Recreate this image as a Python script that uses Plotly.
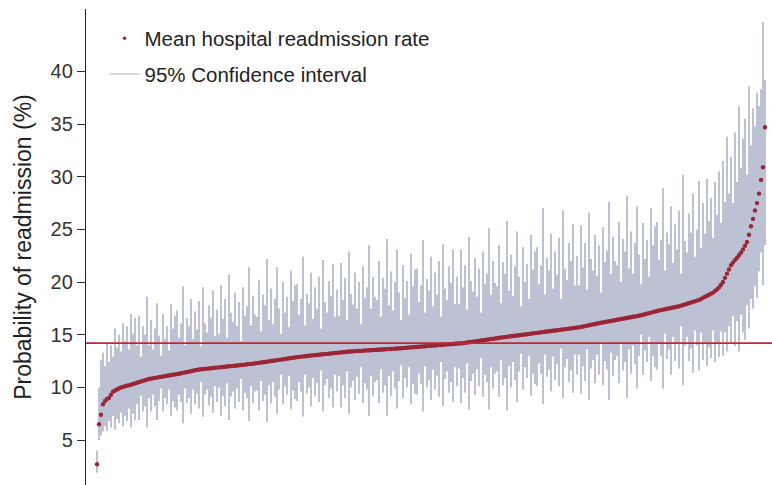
import plotly.graph_objects as go

# Hospitals ranked by mean readmission rate (%)
mean_rate = [
    2.7, 6.5, 7.4, 8.4, 8.7, 8.9, 9.0, 9.3, 9.6, 9.7, 9.8, 9.9, 10.0, 10.05, 10.1, 10.15, 10.2, 10.26, 10.32, 10.38,
    10.44, 10.5, 10.56, 10.62, 10.68, 10.74, 10.8, 10.83, 10.87, 10.9, 10.93, 10.97, 11.0, 11.03, 11.07, 11.1, 11.13, 11.17, 11.2, 11.23,
    11.27, 11.3, 11.34, 11.38, 11.42, 11.46, 11.5, 11.54, 11.58, 11.62, 11.66, 11.7, 11.72, 11.74, 11.76, 11.78, 11.8, 11.82, 11.84, 11.86,
    11.88, 11.9, 11.92, 11.94, 11.96, 11.98, 12.0, 12.02, 12.04, 12.06, 12.08, 12.1, 12.12, 12.14, 12.16, 12.19, 12.21, 12.23, 12.25, 12.28,
    12.3, 12.33, 12.36, 12.39, 12.41, 12.44, 12.47, 12.5, 12.53, 12.56, 12.59, 12.61, 12.64, 12.67, 12.7, 12.73, 12.76, 12.79, 12.81, 12.84,
    12.87, 12.9, 12.92, 12.94, 12.96, 12.98, 13.0, 13.02, 13.04, 13.06, 13.08, 13.1, 13.12, 13.14, 13.16, 13.18, 13.2, 13.22, 13.24, 13.26,
    13.28, 13.3, 13.32, 13.34, 13.36, 13.38, 13.4, 13.41, 13.42, 13.44, 13.45, 13.46, 13.47, 13.48, 13.5, 13.51, 13.52, 13.53, 13.54, 13.56,
    13.57, 13.58, 13.59, 13.6, 13.62, 13.63, 13.64, 13.65, 13.66, 13.68, 13.69, 13.7, 13.72, 13.73, 13.75, 13.76, 13.78, 13.8, 13.81, 13.83,
    13.84, 13.86, 13.87, 13.89, 13.91, 13.92, 13.94, 13.95, 13.97, 13.98, 14.0, 14.02, 14.03, 14.05, 14.06, 14.08, 14.09, 14.11, 14.12, 14.14,
    14.16, 14.17, 14.19, 14.2, 14.23, 14.26, 14.28, 14.31, 14.34, 14.37, 14.39, 14.42, 14.45, 14.48, 14.5, 14.53, 14.56, 14.59, 14.61, 14.64,
    14.67, 14.7, 14.73, 14.75, 14.78, 14.8, 14.83, 14.85, 14.88, 14.9, 14.93, 14.95, 14.98, 15.0, 15.03, 15.05, 15.08, 15.1, 15.13, 15.15,
    15.18, 15.2, 15.23, 15.25, 15.28, 15.3, 15.33, 15.35, 15.38, 15.4, 15.43, 15.45, 15.48, 15.5, 15.53, 15.55, 15.58, 15.6, 15.63, 15.65,
    15.68, 15.7, 15.74, 15.78, 15.82, 15.86, 15.9, 15.94, 15.98, 16.02, 16.06, 16.1, 16.14, 16.17, 16.21, 16.24, 16.28, 16.31, 16.35, 16.38,
    16.42, 16.45, 16.49, 16.52, 16.56, 16.59, 16.63, 16.66, 16.7, 16.73, 16.77, 16.8, 16.85, 16.9, 16.95, 17.0, 17.05, 17.1, 17.15, 17.2,
    17.25, 17.3, 17.34, 17.38, 17.42, 17.46, 17.5, 17.54, 17.58, 17.62, 17.66, 17.7, 17.76, 17.82, 17.88, 17.94, 18.0, 18.06, 18.12, 18.18,
    18.24, 18.3, 18.4, 18.5, 18.6, 18.7, 18.8, 18.9, 19.0, 19.15, 19.3, 19.5, 19.75, 20.0, 20.4, 20.8, 21.2, 21.6, 21.85, 22.1,
    22.3, 22.55, 22.8, 23.1, 23.45, 23.8, 24.5, 25.3, 26.0, 26.8, 27.5, 28.4, 29.7, 30.9, 34.7,
]

ci_lower = [
    1.9, 5.0, 5.4, 5.8, 6.3, 5.9, 6.8, 6.2, 7.3, 6.0, 7.0, 6.6, 7.6, 6.3, 7.3, 6.8, 8.0, 6.2, 7.5, 6.9,
    8.4, 6.9, 9.2, 7.7, 8.2, 6.2, 9.0, 7.7, 9.3, 8.2, 6.9, 8.7, 9.9, 7.7, 9.0, 8.4, 9.8, 7.3, 8.7, 8.1,
    7.8, 9.3, 8.6, 6.6, 9.9, 8.5, 9.0, 7.5, 9.8, 8.4, 9.4, 8.0, 10.5, 7.2, 9.3, 9.8, 8.3, 9.1, 7.6, 10.1,
    8.6, 10.0, 7.3, 9.2, 8.2, 10.4, 6.9, 9.1, 9.6, 8.0, 9.9, 8.6, 10.8, 7.8, 9.5, 9.0, 6.8, 10.1, 8.5, 9.6,
    9.7, 7.8, 10.6, 8.7, 9.3, 6.7, 10.2, 8.5, 10.5, 9.1, 7.5, 9.8, 11.2, 8.4, 10.1, 9.3, 11.1, 7.9, 9.7, 8.9,
    8.7, 10.5, 9.6, 7.2, 11.2, 9.4, 10.0, 8.2, 10.9, 9.2, 10.4, 8.6, 11.6, 7.7, 10.2, 10.8, 9.0, 9.9, 8.1, 11.2,
    9.6, 11.1, 8.1, 10.2, 9.0, 11.5, 7.5, 10.0, 10.6, 8.8, 11.0, 9.4, 11.9, 8.5, 10.4, 9.8, 7.3, 11.1, 9.2, 10.5,
    10.7, 8.5, 11.7, 9.5, 10.2, 7.3, 11.1, 9.2, 11.5, 9.9, 8.0, 10.6, 12.1, 9.0, 10.9, 10.0, 11.9, 8.4, 10.3, 9.4,
    9.3, 11.3, 10.3, 7.7, 12.0, 10.0, 10.7, 8.8, 11.7, 9.8, 11.1, 9.1, 12.4, 8.2, 10.8, 11.5, 9.5, 10.5, 8.6, 11.9,
    10.1, 11.8, 8.5, 10.9, 9.5, 12.3, 7.9, 10.6, 11.3, 9.3, 11.7, 10.1, 12.8, 9.1, 11.2, 10.5, 7.9, 11.9, 9.9, 11.3,
    11.5, 9.1, 12.6, 10.2, 10.9, 7.8, 12.0, 10.0, 12.4, 10.7, 8.6, 11.5, 13.2, 9.8, 11.9, 10.9, 13.0, 9.2, 11.3, 10.3,
    10.1, 12.3, 11.3, 8.4, 13.1, 11.0, 11.7, 9.6, 12.9, 10.7, 12.2, 10.1, 13.7, 9.0, 11.9, 12.7, 10.5, 11.6, 9.5, 13.1,
    11.2, 13.1, 9.4, 12.0, 10.6, 13.6, 8.8, 11.8, 12.6, 10.4, 13.1, 11.2, 14.3, 10.2, 12.5, 11.7, 8.8, 13.3, 11.1, 12.6,
    13.0, 10.4, 14.2, 11.6, 12.4, 9.0, 13.6, 11.3, 14.0, 12.2, 9.9, 13.0, 15.0, 11.2, 13.5, 12.4, 14.8, 10.6, 13.0, 11.9,
    11.7, 14.1, 13.0, 9.9, 15.1, 12.7, 13.6, 11.2, 14.8, 12.5, 14.1, 11.8, 15.8, 10.2, 13.9, 14.8, 12.5, 13.7, 11.4, 15.4,
    14.0, 11.6, 15.2, 12.6, 14.3, 12.0, 13.8, 12.8, 15.4, 12.4, 14.2, 12.9, 15.3, 13.0, 15.2, 13.4, 15.8, 14.2, 16.8, 13.9,
    16.3, 13.4, 16.9, 15.2, 14.5, 17.8, 15.6, 18.4, 17.5, 19.6, 18.5, 21.0, 22.8, 19.7, 23.5,
]

ci_upper = [
    4.0, 10.0, 12.6, 13.3, 12.0, 14.2, 12.4, 14.0, 12.9, 15.6, 13.8, 15.0, 13.4, 16.1, 14.4, 15.8, 13.6, 17.0, 15.1, 16.6,
    14.0, 16.8, 12.9, 15.8, 15.0, 18.6, 14.0, 16.4, 13.6, 15.6, 18.0, 14.9, 13.0, 17.0, 14.6, 15.8, 13.5, 17.9, 15.6, 16.8,
    17.3, 14.7, 16.1, 19.6, 14.0, 16.6, 15.8, 18.4, 14.6, 17.2, 15.5, 18.2, 13.9, 19.5, 16.1, 15.2, 17.8, 16.6, 19.2, 14.9,
    17.4, 15.1, 19.7, 16.5, 18.4, 14.7, 20.7, 17.1, 16.2, 19.0, 15.8, 18.1, 14.4, 19.5, 16.8, 17.7, 21.4, 15.9, 18.7, 16.9,
    16.7, 20.2, 15.3, 18.8, 17.8, 22.2, 16.4, 19.4, 16.0, 18.4, 21.4, 17.5, 15.1, 20.0, 17.1, 18.6, 15.7, 21.1, 18.2, 19.7,
    19.8, 16.9, 18.4, 22.4, 15.9, 18.9, 18.0, 20.9, 16.5, 19.5, 17.5, 20.5, 15.6, 22.1, 18.1, 17.1, 20.1, 18.7, 21.7, 16.7,
    19.3, 16.8, 21.8, 18.3, 20.4, 16.4, 22.9, 18.9, 17.9, 20.9, 17.5, 20.0, 16.0, 21.5, 18.5, 19.5, 23.5, 17.5, 20.5, 18.6,
    18.3, 22.0, 16.7, 20.4, 19.4, 24.1, 17.8, 21.0, 17.3, 20.0, 23.1, 19.0, 16.4, 21.6, 18.5, 20.1, 16.9, 22.7, 19.6, 21.2,
    21.3, 18.1, 19.7, 24.0, 17.1, 20.3, 19.2, 22.4, 17.7, 20.9, 18.8, 22.0, 16.7, 23.6, 19.4, 18.3, 21.5, 19.9, 23.1, 17.9,
    20.5, 17.9, 23.1, 19.5, 21.6, 17.4, 24.3, 20.1, 19.1, 22.3, 18.6, 21.3, 17.1, 22.9, 19.8, 20.8, 25.1, 18.8, 22.0, 19.9,
    19.6, 23.5, 18.0, 21.9, 20.8, 25.8, 19.2, 22.6, 18.7, 21.5, 24.8, 20.5, 17.7, 23.3, 20.0, 21.7, 18.4, 24.5, 21.2, 22.9,
    23.3, 19.8, 21.6, 27.0, 18.8, 22.3, 21.1, 24.6, 19.4, 22.9, 20.7, 24.2, 18.4, 26.8, 21.3, 20.2, 23.7, 22.0, 25.5, 19.7,
    22.5, 19.7, 25.4, 21.4, 23.7, 19.3, 26.6, 22.2, 21.1, 24.5, 20.6, 23.5, 19.0, 25.2, 21.9, 23.0, 27.6, 20.8, 24.3, 22.0,
    21.6, 25.7, 20.0, 24.1, 22.9, 28.2, 21.3, 24.8, 20.8, 23.7, 27.2, 22.6, 19.8, 25.6, 22.2, 24.0, 20.5, 27.0, 23.5, 25.3,
    25.7, 22.1, 24.0, 28.9, 21.1, 24.7, 23.6, 27.2, 21.8, 25.5, 23.1, 26.8, 20.8, 30.2, 23.9, 22.8, 26.5, 24.7, 28.4, 22.4,
    25.0, 29.6, 23.2, 27.5, 24.6, 29.8, 25.8, 28.0, 24.2, 29.5, 26.4, 30.5, 25.6, 31.5, 27.6, 33.8, 28.4, 31.9, 27.5, 34.2,
    29.5, 36.7, 30.8, 33.6, 35.5, 30.2, 38.6, 33.0, 36.5, 34.8, 38.0, 36.7, 38.3, 44.7, 39.2,
]

overall_mean = 14.2
y_ticks = [5, 10, 15, 20, 25, 30, 35, 40]

n = min(len(mean_rate), len(ci_lower), len(ci_upper))
rank = list(range(1, n + 1))

ci_x, ci_y = [], []
for r, lo, hi in zip(rank, ci_lower[:n], ci_upper[:n]):
    ci_x += [r, r, None]
    ci_y += [lo, hi, None]

CI_COLOR = "rgb(160,168,192)"
DOT_COLOR = "#9c2636"
FONT = "Liberation Sans, Arial, sans-serif"

fig = go.Figure()
fig.add_trace(go.Scatter(
    x=ci_x, y=ci_y, mode="lines",
    line=dict(color=CI_COLOR, width=1.4),
    showlegend=False, hoverinfo="skip",
))
fig.add_trace(go.Scatter(
    x=rank, y=mean_rate[:n], mode="markers",
    marker=dict(color=DOT_COLOR, size=4.4, line=dict(width=0)),
    showlegend=False,
))
# legend entries
fig.add_trace(go.Scatter(
    x=[None], y=[None], mode="markers",
    marker=dict(color=DOT_COLOR, size=3.5),
    name="Mean hospital readmission rate", legendgroup="a",
))
fig.add_trace(go.Scatter(
    x=[None], y=[None], mode="lines",
    line=dict(color="#b0b5c2", width=1.2),
    name="95% Confidence interval", legendgroup="b",
))

fig.add_shape(type="line", xref="paper", x0=0, x1=1, yref="y",
              y0=overall_mean, y1=overall_mean,
              line=dict(color="#c02838", width=1.6), layer="above")

fig.update_layout(
    width=772, height=485,
    margin=dict(l=86, r=0, t=9, b=0),
    paper_bgcolor="white", plot_bgcolor="white",
    font=dict(family=FONT, color="#222"),
    showlegend=True,
    legend=dict(
        x=0.027, y=0.98, xanchor="left", yanchor="top",
        font=dict(size=20.5, color="#222", family=FONT),
        bgcolor="rgba(255,255,255,0)",
        traceorder="grouped", tracegroupgap=6,
    ),
    xaxis=dict(visible=False, range=[-4.5, 338.5]),
    yaxis=dict(
        range=[0.73, 45.93],
        tickvals=y_ticks,
        ticks="outside", ticklen=8, tickwidth=1.2, tickcolor="#333",
        showline=True, linecolor="#222", linewidth=1.3,
        showgrid=False, zeroline=False,
        tickfont=dict(size=20, color="#333", family=FONT),
        title=dict(text="Probability of readmission (%)",
                   font=dict(size=23, color="#222", family=FONT),
                   standoff=12),
    ),
)

fig.write_html(
    "out.html",
    config={"displayModeBar": False},
    post_script="document.body.style.margin='0px';document.body.style.overflow='hidden';",
)
